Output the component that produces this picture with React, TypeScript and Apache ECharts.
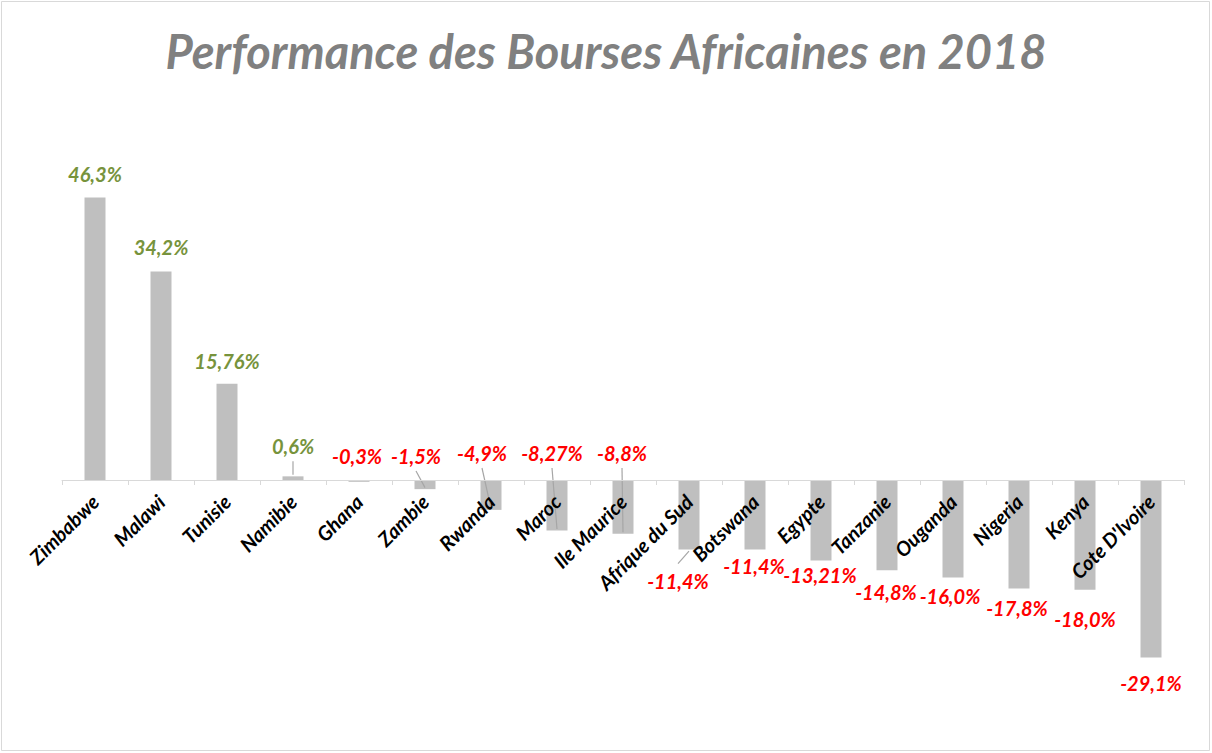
import React, { useEffect, useRef } from "react";
import * as echarts from "echarts";

const categories = [
  "Zimbabwe", "Malawi", "Tunisie", "Namibie", "Ghana", "Zambie", "Rwanda", "Maroc",
  "Ile Maurice", "Afrique du Sud", "Botswana", "Egypte", "Tanzanie", "Ouganda",
  "Nigeria", "Kenya", "Cote D'Ivoire",
];
const performance = [
  46.3, 34.2, 15.76, 0.6, -0.3, -1.5, -4.9, -8.27, -8.8, -11.4, -11.4, -13.21, -14.8,
  -16.0, -17.8, -18.0, -29.1,
];

// label layout: anchor ("end" of bar or "zero" line), pixel offset, optional leader start offset
const labelAnchor = ["end", "end", "end", "end", "zero", "zero", "zero", "zero", "zero", "end", "end", "end", "end", "end", "end", "end", "end"];
const labelDx = [0, 0, 0, 0, -2, -9, -9, -5, -1, -11, -1, -1, -1, -3, -2, 0, 0];
const labelDy = [-24, -24, -23, -30, -24, -24, -27, -27, -27, 31, 16, 14, 22, 18, 19, 29, 25];
const leaderStart = [0, 0, 0, 15, 0, 15, 15, 15, 15, -17, 0, 0, 0, 0, 0, 0, 0];

const fmt = (v: number) => {
  const oneDec = Math.abs(v * 10 - Math.round(v * 10)) < 1e-6;
  return v.toFixed(oneDec ? 1 : 2).replace(".", ",") + "%";
};

const FONT = "Lato, 'Open Sans', sans-serif";
const GRID_TOP = 175;
const GRID_BOTTOM = 90;
const Y_MIN = -30;
const Y_MAX = 50;
const PLOT_H = 753 - GRID_TOP - GRID_BOTTOM;
const ZERO_FROM_BOTTOM = (PLOT_H * (0 - Y_MIN)) / (Y_MAX - Y_MIN);

export default function App() {
  const ref = useRef<HTMLDivElement>(null);
  useEffect(() => {
    if (!ref.current) return;
    const chart = echarts.init(ref.current, undefined, { renderer: "svg" });
    chart.setOption({
      animation: false,
      backgroundColor: "#ffffff",
      title: {
        text: "Performance des Bourses Africaines en 2018",
        left: "center",
        top: 22,
        textStyle: {
          fontFamily: FONT,
          fontSize: 47,
          fontWeight: "bold",
          fontStyle: "italic",
          color: "#808080",
        },
      },
      graphic: [
        {
          type: "rect",
          shape: { x: 1.5, y: 1.5, width: 1208, height: 749 },
          style: { fill: "none", stroke: "#D9D9D9", lineWidth: 1 },
          silent: true,
        },
      ],
      grid: { left: 62, right: 28, top: GRID_TOP, bottom: GRID_BOTTOM, containLabel: false },
      xAxis: {
        type: "category",
        data: categories,
        z: 10,
        offset: -ZERO_FROM_BOTTOM,
        axisLine: { onZero: false, lineStyle: { color: "#D9D9D9", width: 1 } },
        axisTick: { show: true, length: 5, alignWithLabel: false, lineStyle: { color: "#D9D9D9" } },
        axisLabel: {
          interval: 0,
          rotate: 45,
          margin: 18,
          color: "#000000",
          fontFamily: FONT,
          fontSize: 20,
          fontWeight: "bold",
          fontStyle: "italic",
        },
        splitLine: { show: false },
      },
      yAxis: {
        type: "value",
        min: Y_MIN,
        max: Y_MAX,
        show: false,
        splitLine: { show: false },
      },
      series: [
        {
          type: "bar",
          data: performance,
          barWidth: 21,
          itemStyle: { color: "#BFBFBF" },
          label: { show: false },
        },
        {
          type: "custom",
          data: performance.map((v, i) => [i, v]),
          encode: { x: 0, y: 1 },
          z: 5,
          renderItem: (params: any, api: any) => {
            const i = params.dataIndex;
            const v = performance[i];
            const end = api.coord([i, v]);
            const zero = api.coord([i, 0]);
            const base = labelAnchor[i] === "zero" ? zero : end;
            const cx = base[0] + labelDx[i];
            const cy = base[1] + labelDy[i];
            const children: any[] = [
              {
                type: "text",
                x: cx,
                y: cy,
                style: {
                  text: fmt(v),
                  fill: v >= 0 ? "#77933C" : "#FF0000",
                  fontFamily: FONT,
                  fontSize: 20,
                  fontWeight: "bold",
                  fontStyle: "italic",
                  align: "center",
                  verticalAlign: "middle",
                },
              },
            ];
            if (leaderStart[i] !== 0) {
              const dir = leaderStart[i] > 0 ? -1 : 1;
              children.push({
                type: "line",
                shape: {
                  x1: cx,
                  y1: cy + leaderStart[i],
                  x2: end[0],
                  y2: end[1] + dir * 1.5,
                },
                style: { stroke: "#A6A6A6", lineWidth: 1.2 },
              });
            }
            return { type: "group", children };
          },
        },
      ],
    });
    return () => chart.dispose();
  }, []);
  return (
    <div
      ref={ref}
      style={{ position: "fixed", left: 0, top: 0, width: 1212, height: 753 }}
    />
  );
}
